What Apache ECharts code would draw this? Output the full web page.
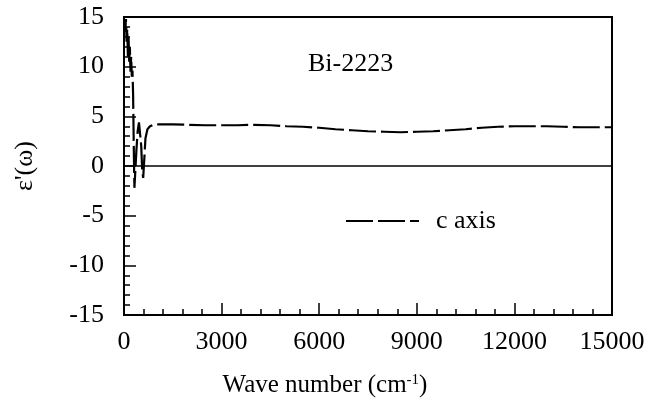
<!DOCTYPE html>
<html>
<head>
<meta charset="utf-8">
<script src="https://cdn.jsdelivr.net/npm/echarts@6/dist/echarts.min.js"></script>
<style>html,body{margin:0;padding:0;background:#fff}#c{width:653px;height:417px}</style>
</head>
<body>
<div id="c"></div>
<script>
const seriesName = 'c axis';
const chartTitle = 'Bi-2223';
const xName = 'Wave number (cm{sup|-1})';
const yName = "ε'(ω)";
const waveNumber = [20,40,60,80,100,120,140,160,180,200,220,240,260,280,300,320,340,380,420,460,500,530,560,590,620,660,720,800,900,1000,1200,1500,2000,2500,3000,3500,4000,4500,5000,5500,6000,6500,7000,7500,8000,8500,9000,9500,10000,10500,11000,11500,12000,12500,13000,13500,14000,14500,15000];
const epsReal = [14.6,13.5,14.8,12.5,13.8,11.0,13.0,10.5,12.0,9.5,11.0,9.0,9.6,7.2,2.0,-2.2,-1.0,1.5,3.5,4.4,4.3,2.0,-0.5,-1.2,0.5,2.8,3.7,4.0,4.15,4.2,4.2,4.2,4.15,4.1,4.1,4.1,4.15,4.1,4.0,3.95,3.85,3.7,3.6,3.5,3.45,3.4,3.45,3.5,3.6,3.7,3.85,3.95,4.0,4.0,4.0,3.95,3.9,3.9,3.9];
const xTicks = [0,3000,6000,9000,12000,15000];
const yTicks = [-15,-10,-5,0,5,10,15];

const font = 'Liberation Serif';
const chart = echarts.init(document.getElementById('c'), null, {renderer:'canvas'});
chart.setOption({
  animation:false,
  backgroundColor:'#fff',
  title:{text:chartTitle,left:303,top:46,textStyle:{fontFamily:font,fontSize:26,fontWeight:'normal',color:'#000'}},
  legend:{data:[seriesName],left:340,top:203,itemWidth:73,itemHeight:24,
    itemStyle:{opacity:0},
    textStyle:{fontFamily:font,fontSize:26,color:'#000',padding:[0,0,0,12]}},
  grid:{left:124,right:41,top:17,bottom:102,containLabel:false,outerBoundsMode:'none',
    show:true,borderColor:'#000',borderWidth:2,backgroundColor:'transparent'},
  xAxis:{type:'value',min:xTicks[0],max:xTicks[xTicks.length-1],interval:3000,
    name:xName,nameLocation:'middle',nameGap:58,
    nameTextStyle:{fontFamily:font,fontSize:25,color:'#000',padding:[0,86,0,0],
      rich:{sup:{fontFamily:font,fontSize:15,color:'#000',verticalAlign:'top',padding:[0,0,10,0]}}},
    axisLine:{onZero:false,lineStyle:{color:'#000',width:2}},
    axisTick:{inside:true,length:12,lineStyle:{color:'#000',width:1.5}},
    minorTick:{show:true,splitNumber:5,length:6,lineStyle:{color:'#000',width:1.5}},
    splitLine:{show:false},
    axisLabel:{fontFamily:font,fontSize:26,color:'#000',margin:14,formatter:v=>String(v)}},
  yAxis:{type:'value',min:yTicks[0],max:yTicks[yTicks.length-1],interval:5,
    name:yName,nameLocation:'middle',nameGap:86,
    nameTextStyle:{fontFamily:font,fontSize:26,color:'#000'},
    axisLine:{onZero:false,lineStyle:{color:'#000',width:2}},
    axisTick:{inside:true,length:12,lineStyle:{color:'#000',width:1.5}},
    minorTick:{show:true,splitNumber:5,length:6,lineStyle:{color:'#000',width:1.5}},
    splitLine:{show:false},
    axisLabel:{fontFamily:font,fontSize:26,color:'#000',margin:20,formatter:v=>String(v)}},
  series:[{
    name:seriesName,type:'line',symbol:'none',showSymbol:false,
    data:waveNumber.map((w,i)=>[w,epsReal[i]]),
    lineStyle:{color:'#000',width:2.2,type:[27,5]},
    itemStyle:{color:'#000'},
    markLine:{silent:true,symbol:'none',label:{show:false},
      lineStyle:{color:'#000',width:1.5,type:'solid'},data:[{yAxis:0}]}
  }]
});
</script>
</body>
</html>
